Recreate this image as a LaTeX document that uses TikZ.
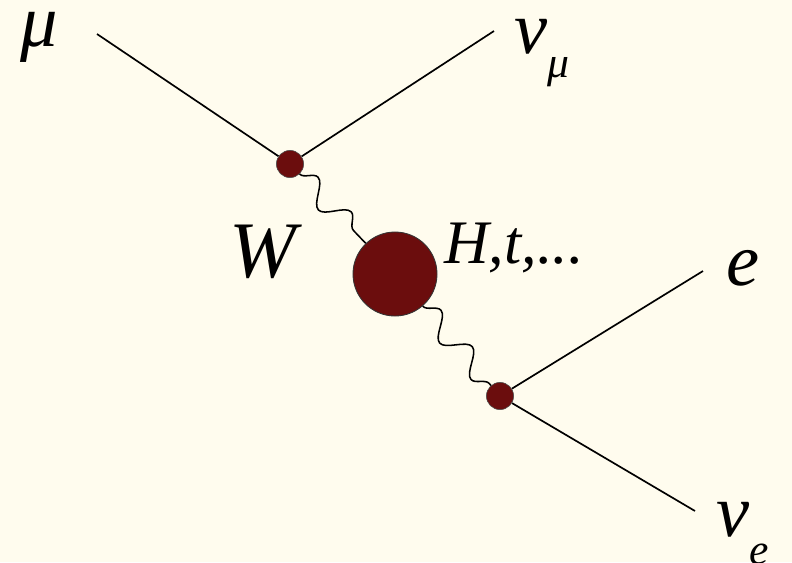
\documentclass[tikz,border=0pt]{standalone}
\usepackage{fontspec}
\setmainfont{Liberation Serif}
\usepackage{tikz}
\usetikzlibrary{decorations.pathmorphing}
\definecolor{creme}{HTML}{FFFCEE}
\definecolor{blut}{HTML}{6B0D0D}

\newcommand{\grossfont}{\fontsize{53}{60}\selectfont\itshape}
\newcommand{\kleinfont}{\fontsize{31}{36}\selectfont\itshape}

\tikzset{
  vertex/.style={circle, fill=blut, draw=black!70, line width=0.4pt,
                 minimum size=0.68cm, inner sep=0pt},
  blase/.style={circle, fill=blut, draw=black!80, line width=0.6pt,
                minimum size=2.1cm, inner sep=0pt},
  fermion/.style={line width=1.2pt},
  boson/.style={line width=1.1pt, decorate,
                decoration={snake, segment length=1.2cm, amplitude=0.28cm}},
  etikett/.style={anchor=base west, inner sep=0pt, font=\grossfont,
                  text height=0.45em, text depth=0.1em}
}

\begin{document}
\begin{tikzpicture}[x=0.025cm, y=-0.025cm]
      % Hintergrund
      \fill[creme] (0,0) rectangle (792,562);
      \useasboundingbox (0,0) rectangle (792,562);

      % Vertizes
      \node[vertex] (v1) at (290,164) {};
      \node[blase]  (b)  at (395,274) {};
      \node[vertex] (v2) at (500,396) {};

      % Enden
      \coordinate (mu)  at (97,34);
      \coordinate (num) at (494,31);
      \coordinate (el)  at (703,271);
      \coordinate (nue) at (695,511);

      % Linien
      \draw[fermion] (mu) -- (v1);
      \draw[fermion] (num) -- (v1);
      \draw[fermion] (el) -- (v2);
      \draw[fermion] (nue) -- (v2);
      \draw[boson] (v1) -- (b);
      \draw[boson] (b) -- (v2);

      % Beschriftungen
      \node[etikett] (lmu) at (20,46) {μ};
      \node[etikett] (lnum) at (514,53) {ν\raisebox{-0.33em}{\kleinfont μ}};
      \node[etikett] (lel) at (726,285) {e};
      \node[etikett, text depth=0pt] (lnue) at (716,536) {ν\raisebox{-0.38em}{\kleinfont e}};
      \node[etikett, font=\fontsize{57}{64}\selectfont\itshape] (lw) at (229,277) {W};
      \node[etikett, font=\fontsize{44}{50}\selectfont\itshape] (lh) at (444,263) {H,t,...};
    \end{tikzpicture}
\end{document}
